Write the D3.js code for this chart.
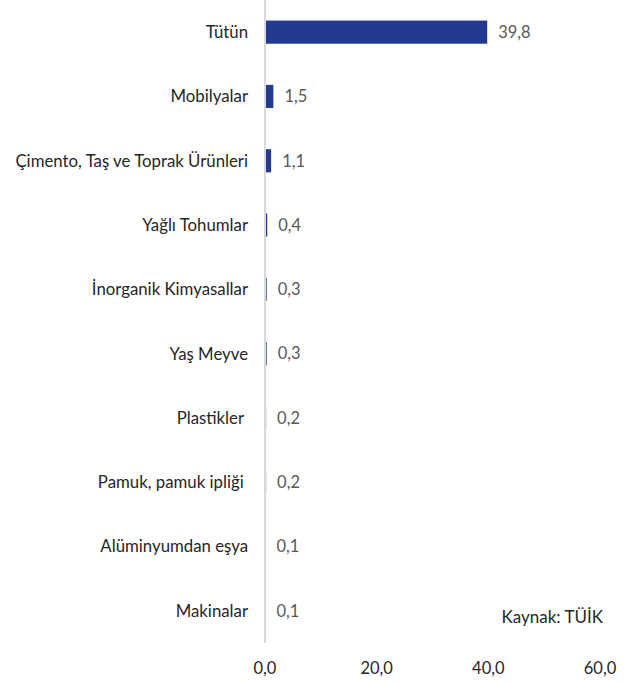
<!DOCTYPE html>
<html>
<head>
<meta charset="utf-8">
<script src="https://cdn.jsdelivr.net/npm/d3@7"></script>
<style>
body { margin: 0; background: #fff; }
text { font-family: Lato, "Open Sans", sans-serif; white-space: pre; }
</style>
</head>
<body>
<div class="chart"></div>
<script>
(function() {
var categories = ["Tütün", "Mobilyalar", "Çimento, Taş ve Toprak Ürünleri", "Yağlı Tohumlar",
  "İnorganik Kimyasallar", "Yaş Meyve", "Plastikler ", "Pamuk, pamuk ipliği ",
  "Alüminyumdan eşya", "Makinalar"]
var values = [39.8, 1.5, 1.1, 0.4, 0.3, 0.3, 0.2, 0.2, 0.1, 0.1]
var xTicks = [0, 20, 40, 60]

var width = 637, height = 683
var x0 = 265, x1 = 600, top = 0, bottom = 643

var svg = d3.select(".chart").append("svg").attr("width", width).attr("height", height)

var x = d3.scaleLinear().domain([0, 60]).range([x0, x1])
var y = d3.scaleBand().domain(categories).range([top, bottom]).paddingInner(0.64).paddingOuter(0.32)

var fmt = function(d) { return d3.format(".1f")(d).replace(".", ",") }

svg.selectAll("rect.bar").data(values)
  .enter().append("rect")
  .attr("class", "bar")
  .attr("x", x(0))
  .attr("y", function(d, i) { return y(categories[i]) })
  .attr("width", function(d) { return x(d) - x(0) })
  .attr("height", y.bandwidth())
  .style("fill", "#223a8f")

// vertical axis line
svg.append("line")
  .attr("x1", x(0)).attr("x2", x(0))
  .attr("y1", top).attr("y2", bottom)
  .style("stroke", "#d9d9d9")
  .style("stroke-width", 2)

// category labels
svg.selectAll("text.cat").data(categories)
  .enter().append("text")
  .attr("class", "cat")
  .attr("x", 248)
  .attr("y", function(d) { return y(d) + y.bandwidth() / 2 })
  .attr("dy", "0.35em")
  .attr("text-anchor", "end")
  .style("font-size", "16.8px")
  .style("fill", "#262626")
  .text(function(d) { return d })

// value labels
svg.selectAll("text.val").data(values)
  .enter().append("text")
  .attr("class", "val")
  .attr("x", function(d) { return x(d) + 11 })
  .attr("y", function(d, i) { return y(categories[i]) + y.bandwidth() / 2 })
  .attr("dy", "0.35em")
  .style("font-size", "16.5px")
  .style("fill", "#595959")
  .text(fmt)

// x axis tick labels
svg.selectAll("text.tick").data(xTicks)
  .enter().append("text")
  .attr("class", "tick")
  .attr("x", function(d) { return x(d) })
  .attr("y", 668)
  .attr("dy", "0.35em")
  .attr("text-anchor", "middle")
  .style("font-size", "16.5px")
  .style("fill", "#262626")
  .text(fmt)

svg.append("text")
  .attr("x", 603)
  .attr("y", 617)
  .attr("dy", "0.35em")
  .attr("text-anchor", "end")
  .style("font-size", "17px")
  .style("fill", "#262626")
  .text("Kaynak: TÜİK")
})()
</script>
</body>
</html>
